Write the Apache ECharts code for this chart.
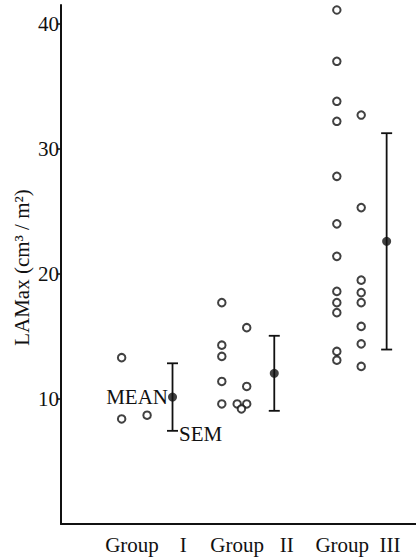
<!DOCTYPE html>
<html>
<head>
<meta charset="utf-8">
<script src="https://cdn.jsdelivr.net/npm/echarts@6/dist/echarts.min.js"></script>
<style>
  html, body { margin: 0; padding: 0; background: #fff; }
  #main { width: 416px; height: 558px; }
</style>
</head>
<body>
<div id="main"></div>
<script>
// group names on the x axis (centres at 1, 2, 3)
var groupNames = ['Group    I', 'Group   II', 'Group  III'];
var yTicks = [10, 20, 30, 40];

// individual LAMax values, one array per column of dots, with the column position
var g1ColA = [13.3, 8.4];            var g1ColAx = 0.77;
var g1ColB = [8.7];                  var g1ColBx = 1.01;
var g2ColA = [17.7, 14.3, 13.4, 11.4, 9.6]; var g2ColAx = 1.715;
var g2ColB = [15.7, 11.0, 9.6];      var g2ColBx = 1.95;
var g2ColC = [9.6];                  var g2ColCx = 1.86;
var g2ColD = [9.2];                  var g2ColDx = 1.90;
var g3ColA = [41.1, 37.0, 33.8, 32.2, 27.8, 24.0, 21.4, 18.6, 17.7, 16.9, 13.8, 13.1]; var g3ColAx = 2.8;
var g3ColB = [32.7, 25.3, 19.5, 18.5, 17.7, 15.8, 14.4, 12.6];                         var g3ColBx = 3.03;

// mean and SEM per group
var meanX = [1.25, 2.21, 3.27];
var meanVals = [10.15, 12.05, 22.6];
var semVals = [2.7, 3.0, 8.65];

var font = '"Liberation Serif", "DejaVu Serif", serif';
var ink = '#111';

// 把每一列的数值变成 [x, y]
function col(vals, x) {
    return vals.map(function (v) { return [x, v]; });
}
var dots = [].concat(
    col(g1ColA, g1ColAx), col(g1ColB, g1ColBx),
    col(g2ColA, g2ColAx), col(g2ColB, g2ColBx), col(g2ColC, g2ColCx), col(g2ColD, g2ColDx),
    col(g3ColA, g3ColAx), col(g3ColB, g3ColBx)
);

var meanData = meanX.map(function (x, i) { return [x, meanVals[i]]; });
var semData = meanX.map(function (x, i) {
    return [x, meanVals[i] - semVals[i], meanVals[i] + semVals[i]];
});

var myChart = echarts.init(document.getElementById('main'), null, { renderer: 'svg' });

var option = {
    backgroundColor: '#fff',
    animation: false,
    textStyle: { fontFamily: font, color: ink },
    grid: { left: 61, right: 0, top: 5, bottom: 34 },
    xAxis: {
        type: 'value',
        min: 0.198,
        max: 3.547,
        splitLine: { show: false },
        axisLine: { show: true, lineStyle: { color: ink, width: 2 } },
        axisTick: { show: false },
        axisLabel: {
            customValues: [1, 2, 3],
            formatter: function (v) { return groupNames[Math.round(v) - 1]; },
            margin: 10,
            color: ink,
            fontFamily: font,
            fontSize: 21
        }
    },
    yAxis: {
        type: 'value',
        min: 0,
        max: 41.5,
        name: 'LAMax (cm³ / m²)',
        nameLocation: 'middle',
        nameGap: 29,
        nameMoveOverlap: false,
        nameTextStyle: { color: ink, fontFamily: font, fontSize: 21, padding: [0, 6, 0, 0] },
        splitLine: { show: false },
        axisLine: { show: true, lineStyle: { color: ink, width: 2 } },
        axisTick: { show: true, customValues: yTicks, length: 4, lineStyle: { color: ink, width: 1.5 } },
        axisLabel: {
            customValues: yTicks,
            margin: 2,
            color: ink,
            fontFamily: font,
            fontSize: 21
        }
    },
    series: [
        {
            // 个体数值
            type: 'scatter',
            data: dots,
            symbol: 'circle',
            symbolSize: 7.5,
            itemStyle: { color: '#fff', borderColor: ink, borderWidth: 2 },
            z: 3
        },
        {
            // SEM 误差线
            type: 'custom',
            data: semData,
            z: 2,
            renderItem: function (params, api) {
                var x = api.value(0);
                var lo = api.coord([x, api.value(1)]);
                var hi = api.coord([x, api.value(2)]);
                var w = 5.5;
                var style = { stroke: ink, lineWidth: 1.8 };
                var children = [
                    { type: 'line', shape: { x1: hi[0], y1: hi[1], x2: lo[0], y2: lo[1] }, style: style },
                    { type: 'line', shape: { x1: hi[0] - w, y1: hi[1], x2: hi[0] + w, y2: hi[1] }, style: style },
                    { type: 'line', shape: { x1: lo[0] - w, y1: lo[1], x2: lo[0] + w, y2: lo[1] }, style: style }
                ];
                if (params.dataIndex === 0) {
                    children.push({
                        type: 'text',
                        style: {
                            text: 'SEM', x: lo[0] + w + 1, y: lo[1] + 3,
                            fill: ink, fontFamily: font, fontSize: 21,
                            align: 'left', verticalAlign: 'middle'
                        }
                    });
                }
                return { type: 'group', children: children };
            }
        },
        {
            // 均值
            type: 'scatter',
            data: meanData,
            symbol: 'circle',
            symbolSize: 9,
            itemStyle: { color: ink },
            z: 4,
            label: {
                show: true,
                position: 'left',
                distance: 0,
                color: ink,
                opacity: 1,
                textBorderWidth: 0,
                fontFamily: font,
                fontSize: 21,
                formatter: function (p) { return p.dataIndex === 0 ? 'MEAN' : ''; }
            },
            emphasis: { disabled: true }
        }
    ]
};

myChart.setOption(option);
</script>
</body>
</html>
